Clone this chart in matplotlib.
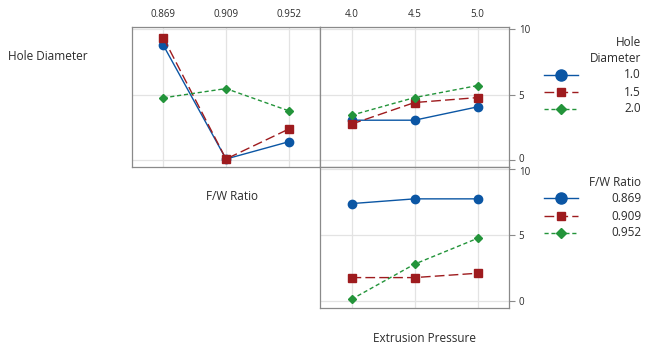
import numpy as np
import matplotlib.pyplot as plt
import matplotlib.transforms as mtransforms
from matplotlib.lines import Line2D

plt.rcParams['font.family'] = ['Open Sans', 'DejaVu Sans']

# levels
fw_levels = ['0.869', '0.909', '0.952']
ep_levels = ['4.0', '4.5', '5.0']
hd_levels = ['1.0', '1.5', '2.0']

# Hole Diameter vs F/W Ratio (one line per hole diameter)
hd_by_fw = {
    '1.0': [8.78, 0.08, 1.40],
    '1.5': [9.36, 0.08, 2.37],
    '2.0': [4.76, 5.47, 3.77],
}
# Hole Diameter vs Extrusion Pressure
hd_by_ep = {
    '1.0': [3.05, 3.05, 4.07],
    '1.5': [2.75, 4.40, 4.78],
    '2.0': [3.43, 4.78, 5.70],
}
# F/W Ratio vs Extrusion Pressure (one line per F/W ratio)
fw_by_ep = {
    '0.869': [7.40, 7.76, 7.76],
    '0.909': [1.78, 1.78, 2.11],
    '0.952': [0.13, 2.80, 4.76],
}

colors = ['#0B56A4', '#9E1B1E', '#23943A']
styles = ['-', (0, (7, 3)), (0, (3, 2))]
markers = ['o', 's', 'D']
msizes = [6, 5.5, 4.2]

W, H = 647, 344
fig = plt.figure(figsize=(W / 100, H / 100), dpi=100)


def px_axes(x0, y0, x1, y1):
    return fig.add_axes([x0 / W, 1 - y1 / H, (x1 - x0) / W, (y1 - y0) / H])


ax1 = px_axes(132, 27, 320, 167)
ax2 = px_axes(320, 27, 509, 167)
ax3 = px_axes(320, 167, 509, 308)

frame_col = '#8a8a8a'
tc = '#2b2b2b'
for ax in (ax1, ax2, ax3):
    ax.set_xlim(-0.5, 2.5)
    ax.set_ylim(-0.53, 10.18)
    ax.set_xticks([0, 1, 2])
    ax.set_yticks([0, 5, 10])
    ax.grid(True, color='#e3e3e3', linewidth=0.9)
    ax.set_axisbelow(True)
    for s in ax.spines.values():
        s.set_color(frame_col)
        s.set_linewidth(0.9)
    ax.tick_params(labelsize=7, colors=tc, length=0)
    ax.tick_params(axis='y', left=False, labelleft=False)
    ax.tick_params(axis='x', bottom=False, labelbottom=False)

ax1.tick_params(axis='x', top=False, labeltop=True, pad=5)
ax1.set_xticklabels(fw_levels)
ax2.tick_params(axis='x', top=False, labeltop=True, pad=5)
ax2.set_xticklabels(ep_levels)
for ax in (ax2, ax3):
    ax.tick_params(axis='y', right=True, labelright=True, length=4,
                   color=frame_col, pad=3)
ax3.set_xticklabels(ep_levels)

# nudge the stacked "0" / "10" labels apart a little
fig.canvas.draw()
lab0 = ax2.yaxis.get_majorticklabels()[0]
lab0.set_transform(lab0.get_transform() + mtransforms.ScaledTranslation(0, 2 / 100, fig.dpi_scale_trans))
lab10 = ax3.yaxis.get_majorticklabels()[-1]
lab10.set_transform(lab10.get_transform() + mtransforms.ScaledTranslation(0, -2 / 100, fig.dpi_scale_trans))

x = np.arange(3)
for i, lv in enumerate(hd_levels):
    for ax, d in ((ax1, hd_by_fw), (ax2, hd_by_ep)):
        ax.plot(x, d[lv], color=colors[i], linestyle=styles[i], linewidth=1.0,
                marker=markers[i], markersize=msizes[i], clip_on=False)
for i, lv in enumerate(fw_levels):
    ax3.plot(x, fw_by_ep[lv], color=colors[i], linestyle=styles[i], linewidth=1.0,
             marker=markers[i], markersize=msizes[i], clip_on=False)

# factor labels
fig.text(8 / W, 1 - 57 / H, 'Hole Diameter', fontsize=8.5, color=tc, va='center', ha='left')
fig.text(232 / W, 1 - 197 / H, 'F/W Ratio', fontsize=8.5, color=tc, va='center', ha='center')
fig.text(425 / W, 1 - 338 / H, 'Extrusion Pressure', fontsize=8.5, color=tc, va='center', ha='center')


# legends drawn in pixel positions
def legend(title_lines, title_ys, labels, ys):
    for t, ty in zip(title_lines, title_ys):
        fig.text(641 / W, 1 - ty / H, t, fontsize=8.5, color=tc, ha='right', va='center')
    lsizes = [8, 6, 5]
    for i, (lab, yy) in enumerate(zip(labels, ys)):
        fy = 1 - yy / H
        fig.add_artist(Line2D([544 / W, 578 / W], [fy, fy], color=colors[i],
                              linestyle=styles[i], linewidth=1.0,
                              transform=fig.transFigure))
        fig.add_artist(Line2D([561 / W], [fy], color=colors[i], marker=markers[i],
                              markersize=lsizes[i], transform=fig.transFigure))
        fig.text(641 / W, fy, lab, fontsize=8.5, color=tc, ha='right', va='center')


legend(['Hole', 'Diameter'], [42, 58], hd_levels, [75, 92, 109])
legend(['F/W Ratio'], [183], fw_levels, [198, 216, 233])

plt.savefig('out.png', dpi=100)
